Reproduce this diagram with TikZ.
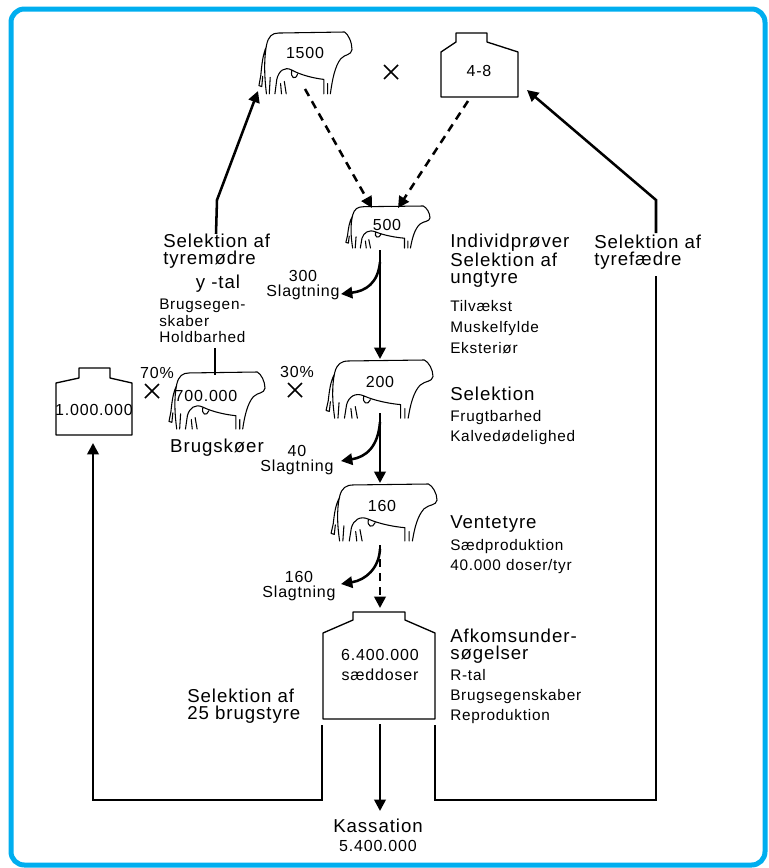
\documentclass[tikz,border=0pt]{standalone}
\usepackage{fontspec}
\setmainfont{Liberation Sans}[LetterSpace=5]
\usetikzlibrary{arrows.meta}
\definecolor{rammeblaa}{RGB}{0,174,239}
\begin{document}
\begin{tikzpicture}[x=0.75pt,y=-0.75pt,
    stor/.style={font=\fontsize{14}{13}\selectfont,align=left,inner sep=0pt},
    lille/.style={font=\fontsize{11.5}{15}\selectfont,align=left,inner sep=0pt},
    tal/.style={font=\fontsize{12}{11.5}\selectfont,align=center,inner sep=0pt},
    pil/.style={line width=1.9pt,-{Triangle[length=8.5pt,width=8.5pt]}},
    stiplet/.style={pil,dash pattern=on 6pt off 4.5pt},
    streg/.style={line width=1.9pt},
    flaske/.style={line width=1pt,line join=round},
    ko/.pic={
      \draw[line width=0.8pt,line cap=round,line join=round]
        (9,60) .. controls (7,45) and (6,28) .. (9,13) .. controls (11,4) and (15,1) .. (22,1)
        -- (92,0) .. controls (96,2) and (100,10) .. (100,17) .. controls (99,23) and (93,21) .. (88,26)
        .. controls (82,33) and (79,46) .. (77,60)
        (70,60) -- (70,46) .. controls (60,45) and (46,42) .. (36,37) .. controls (28,33) and (22,38) .. (20,46) -- (18,60)
        (9,14) .. controls (5,22) and (4,32) .. (3,42) -- (1,52) -- (4,53) -- (5,43)
        (13,44) -- (12,60) (24,50) -- (25,60) (28,48) -- (30,60) (74,50) -- (74,60)
        (36,37) .. controls (34,45) and (40,47) .. (42,41);
    },
    kryds/.pic={\draw[line width=1.2pt] (-7,-7) -- (7,7) (-7,7) -- (7,-7);}]
    \useasboundingbox (0,0) rectangle (768,868);
    \draw[line width=3.75pt,rammeblaa,rounded corners=10pt] (11,9) rectangle (765,865);

    % koer
    \pic[xscale=.94,yscale=1.03] at (258,32) {ko};
    \pic[xscale=.85,yscale=.7] at (345,206) {ko};
    \pic[xscale=.97,yscale=.95] at (168,372) {ko};
    \pic[xscale=1.08,yscale=.97] at (325,360) {ko};
    \pic[xscale=1.07,yscale=.95] at (330,484) {ko};
    \node[tal] (n1500) at (305,53) {1500};
    \node[tal] (n500) at (387,225) {500};
    \node[tal] (n700) at (206,396) {700.000};
    \node[tal] (n200) at (380,382) {200};
    \node[tal] (n160) at (382,506) {160};

    % flasker
    \draw[flaske] (441,97) -- (441,52) -- (456,42) -- (456,33) -- (487,33) -- (487,42) -- (518,52) -- (518,97) -- cycle;
    \node[tal] (b48) at (479,71) {4-8};
    \draw[flaske] (56,435) -- (56,383) -- (79,378) -- (79,368) -- (110,368) -- (110,378) -- (132,383) -- (132,435) -- cycle;
    \node[tal] (b1m) at (94,410) {1.000.000};
    \draw[flaske] (323,719) -- (323,633) -- (353,620) -- (353,612) -- (405,612) -- (405,620) -- (435,633) -- (435,719) -- cycle;
    \node[tal,font=\fontsize{12}{15}\selectfont] (b64) at (380,665) {6.400.000\\sæddoser};

    \pic at (391,72) {kryds};
    \pic at (152,391) {kryds};
    \pic at (295,390) {kryds};

    % tekster
    \node[stor,anchor=west] (tyremoedre) at (163,251) {Selektion af\\tyremødre};
    \node[stor] (ytal) at (218,284) {y -tal};
    \node[lille,anchor=west,font=\fontsize{11.5}{12.5}\selectfont] (brugsegen) at (159,321) {Brugsegen-\\skaber\\Holdbarhed};
    \node[tal] (p70) at (157,373) {70\%};
    \node[tal] (p30) at (297,372) {30\%};
    \node[stor] (brugskoeer) at (217,448) {Brugskøer};
    \node[stor,anchor=west] (sel25) at (187,706) {Selektion af\\25 brugstyre};
    \node[stor,anchor=west] (indiv) at (450,261) {Individprøver\\Selektion af\\ungtyre};
    \node[lille,anchor=west,font=\fontsize{11.5}{16}\selectfont] (indivkrit) at (450,327) {Tilvækst\\Muskelfylde\\Eksteriør};
    \node[stor,anchor=west] (sel) at (450,394) {Selektion};
    \node[lille,anchor=west] (selkrit) at (450,428) {Frugtbarhed\\Kalvedødelighed};
    \node[stor,anchor=west] (vente) at (450,524) {Ventetyre};
    \node[lille,anchor=west] (ventekrit) at (450,557) {Sædproduktion\\40.000 doser/tyr};
    \node[stor,anchor=west] (afkom) at (450,646) {Afkomsunder-\\søgelser};
    \node[lille,anchor=west] (afkomkrit) at (450,697) {R-tal\\Brugsegenskaber\\Reproduktion};
    \node[stor,anchor=west] (tyrefaedre) at (594,252) {Selektion af\\tyrefædre};
    \node[tal] (s300) at (303,285) {300\\Slagtning};
    \node[tal] (s40) at (297,460) {40\\Slagtning};
    \node[tal] (s160) at (299,586) {160\\Slagtning};
    \node[stor] (kass) at (378,826) {Kassation};
    \node[tal] (kasstal) at (378,846) {5.400.000};

    % punkter
    \coordinate (k1500hale) at (258,91);
    \coordinate (k1500ud) at (305,89);
    \coordinate (k500v) at (372,208);
    \coordinate (k500h) at (398,208);
    \coordinate (b48ud) at (468,101);
    \coordinate (b48ind) at (527,90);
    \coordinate (tmstart) at (216,234);
    \coordinate (tmknaek) at (217,200);
    \coordinate (tfstart) at (656,233);
    \coordinate (tfknaek) at (656,200);
    \coordinate (tfbund) at (656,276);
    \coordinate (hbtop) at (215,348);
    \coordinate (hbbund) at (215,375);
    \coordinate (k500ud) at (380,250);
    \coordinate (k500gren) at (380,262);
    \coordinate (s300pil) at (341,294);
    \coordinate (k200ind) at (380,359);
    \coordinate (k200ud) at (380,413);
    \coordinate (k200gren) at (380,422);
    \coordinate (s40pil) at (341,461);
    \coordinate (k160ind) at (380,483);
    \coordinate (k160ud) at (380,545);
    \coordinate (k160gren) at (380,549);
    \coordinate (s160pil) at (341,584);
    \coordinate (b64ind) at (380,608);
    \coordinate (b64vb) at (322,725);
    \coordinate (b64mb) at (380,724);
    \coordinate (b64hb) at (435,725);
    \coordinate (vbund) at (322,800);
    \coordinate (hbund) at (435,800);
    \coordinate (b1mind) at (93,443);
    \coordinate (kassind) at (380,811);

    % pile
    \draw[stiplet] (k1500ud) -- (k500v);
    \draw[stiplet] (b48ud) -- (k500h);
    \draw[pil] (tmstart) -- (tmknaek) -- (k1500hale);
    \draw[pil] (tfstart) -- (tfknaek) -- (b48ind);
    \draw[streg] (hbtop) -- (hbbund);
    \draw[pil] (k500ud) -- (k200ind);
    \draw[pil] (k500gren) .. controls (378,283) and (366,291) .. (s300pil);
    \draw[pil] (k200ud) -- (k160ind);
    \draw[pil] (k200gren) .. controls (378,447) and (366,457) .. (s40pil);
    \draw[stiplet] (k160ud) -- (b64ind);
    \draw[pil] (k160gren) .. controls (379,568) and (366,580) .. (s160pil);
    \draw[pil] (b64vb) -- (vbund) -| (b1mind);
    \draw[streg] (b64hb) -- (hbund) -| (tfbund);
    \draw[pil] (b64mb) -- (kassind);
\end{tikzpicture}
\end{document}
